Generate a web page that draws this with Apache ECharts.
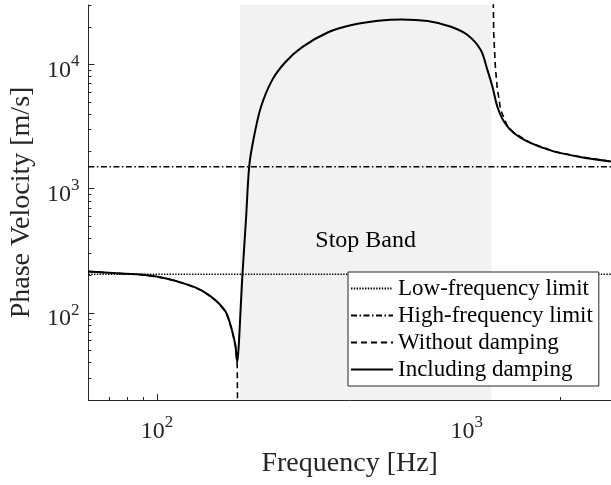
<!DOCTYPE html>
<html><head><meta charset="utf-8">
<script src="https://cdn.jsdelivr.net/npm/echarts@6/dist/echarts.min.js"></script>
<style>html,body{margin:0;padding:0;background:#fff}#c{width:611px;height:485px}</style>
</head><body><div id="c"></div>
<script>
const FONT = '"Liberation Serif","Times New Roman",serif';
const TXT = '#262626';

// axis ranges and ticks
const xRange = [60, 2920];
const yRange = [20, 30000];
const xMajorTicks = [100, 1000];
const xMinorTicks = [60, 70, 80, 90, 200, 300, 400, 500, 600, 700, 800, 900, 2000];
const yMajorTicks = [100, 1000, 10000];
const yMinorTicks = [20, 30, 40, 50, 60, 70, 80, 90, 200, 300, 400, 500, 600, 700, 800, 900,
                     2000, 3000, 4000, 5000, 6000, 7000, 8000, 9000, 20000, 30000];

// limits
const lowFreqLimit = 205;
const highFreqLimit = 1500;

// stop band
const stopBand = [185, 1200];

// Including damping
const freqDamped = [60, 74.1, 90.2, 107, 124, 140, 155, 167, 174, 179, 181.4, 183.2, 186.3, 188.6, 193.6, 198.3, 204.6, 216, 235.4, 259.7, 294, 358, 425, 517, 615, 748, 889, 1005, 1109, 1165, 1209, 1254, 1317, 1418, 1604, 1905, 2320, 2920];
const velDamped  = [216, 209, 203, 190, 171, 151, 125.5, 101, 74.5, 54.7, 40.3, 51.5, 115, 205, 566, 1514, 2478, 4480, 7500, 10450, 13770, 18200, 20700, 22390, 22970, 22270, 20050, 17200, 13040, 9020, 6624, 4585, 3474, 2805, 2333, 1997, 1802, 1658];

// Without damping (two branches)
const freqUndampedLow = [60, 74.1, 90.2, 107, 124, 140, 155, 167, 174, 179, 181.4, 182.3];
const velUndampedLow  = [216, 209, 203, 190, 171, 151, 125.5, 101, 74.5, 54.7, 38, 8];
const freqUndampedHigh = [1213, 1218, 1221, 1236, 1252, 1285, 1352, 1418, 1604, 1905, 2320, 2920];
const velUndampedHigh  = [80000, 28000, 17700, 9550, 6610, 4315, 3170, 2820, 2340, 2000, 1805, 1658];

const zip = (a, b) => a.map((v, i) => [v, b[i]]);
const undamped = zip(freqUndampedLow, velUndampedLow).concat([[null, null]], zip(freqUndampedHigh, velUndampedHigh));

const richLbl = {
  b: { fontFamily: FONT, fontSize: 24, color: TXT, padding: [12, 0, 0, 0] },
  s: { fontFamily: FONT, fontSize: 17, color: TXT, padding: [0, 0, 6, 0] }
};
const powFmt = v => {
  const e = Math.round(Math.log10(v));
  if (Math.abs(v - Math.pow(10, e)) > 1e-6 * v) return '';
  return '{b|10}{s|' + e + '}';
};

const axisLineStyle = { color: TXT, width: 1 };

const option = {
  backgroundColor: '#fff',
  animation: false,
  grid: { left: 85, top: 5, right: 0, bottom: 85, containLabel: false },
  xAxis: [
    { type: 'log', logBase: 10, min: xRange[0], max: xRange[1],
      name: 'Frequency [Hz]', nameLocation: 'middle', nameGap: 50,
      nameTextStyle: { fontFamily: FONT, fontSize: 28, color: TXT },
      axisLine: { show: true, lineStyle: axisLineStyle },
      axisTick: { show: true, inside: true, length: 6, lineStyle: axisLineStyle, customValues: xMajorTicks },
      axisLabel: { show: true, margin: 8, formatter: powFmt, rich: richLbl, customValues: xMajorTicks },
      splitLine: { show: false }, minorTick: { show: false } },
    { type: 'log', logBase: 10, min: xRange[0], max: xRange[1], position: 'bottom',
      axisLine: { show: false },
      axisTick: { show: true, inside: true, length: 3, lineStyle: axisLineStyle, customValues: xMinorTicks },
      axisLabel: { show: false }, splitLine: { show: false } }
  ],
  yAxis: [
    { type: 'log', logBase: 10, min: yRange[0], max: yRange[1],
      name: 'Phase Velocity [m/s]', nameLocation: 'middle', nameGap: 48, nameRotate: 90,
      nameTextStyle: { fontFamily: FONT, fontSize: 28, color: TXT },
      axisLine: { show: true, lineStyle: axisLineStyle },
      axisTick: { show: true, inside: true, length: 6, lineStyle: axisLineStyle, customValues: yMajorTicks },
      axisLabel: { show: true, margin: 9, formatter: powFmt, rich: richLbl, customValues: yMajorTicks },
      splitLine: { show: false } },
    { type: 'log', logBase: 10, min: yRange[0], max: yRange[1], position: 'left',
      axisLine: { show: false },
      axisTick: { show: true, inside: true, length: 3, lineStyle: axisLineStyle, customValues: yMinorTicks },
      axisLabel: { show: false }, splitLine: { show: false } }
  ],
  legend: {
    data: ['Low-frequency limit', 'High-frequency limit', 'Without damping', 'Including damping'],
    orient: 'vertical', left: 348, top: 272,
    itemWidth: 42, itemHeight: 12, itemGap: 0,
    padding: [3, 6, 3, 2],
    backgroundColor: '#fff', borderColor: TXT, borderWidth: 1, borderRadius: 0,
    itemStyle: { opacity: 0 },
    textStyle: { fontFamily: FONT, fontSize: 23, color: '#000', lineHeight: 27 },
    selectedMode: false
  },
  series: [
    { name: 'band', type: 'line', data: [], silent: true,
      markArea: { silent: true, itemStyle: { color: '#f2f2f2' },
        label: { show: true, position: 'inside', offset: [0, 38], formatter: 'Stop Band',
                 fontFamily: FONT, fontSize: 24, color: '#000' },
        data: [[{ xAxis: stopBand[0], yAxis: yRange[0] }, { xAxis: stopBand[1], yAxis: yRange[1] }]] } },
    { name: 'Low-frequency limit', type: 'line', symbol: 'none', clip: true,
      data: [[xRange[0], lowFreqLimit], [xRange[1], lowFreqLimit]],
      lineStyle: { color: '#000', width: 1.6, type: [1.4, 1.4] }, itemStyle: { color: '#000', opacity: 0 } },
    { name: 'High-frequency limit', type: 'line', symbol: 'none', clip: true,
      data: [[xRange[0], highFreqLimit], [xRange[1], highFreqLimit]],
      lineStyle: { color: '#000', width: 1.5, type: [6, 2.5, 1.5, 2.5] }, itemStyle: { color: '#000', opacity: 0 } },
    { name: 'Without damping', type: 'line', symbol: 'none', clip: true, connectNulls: false,
      data: undamped,
      lineStyle: { color: '#000', width: 1.6, type: [6, 4] }, itemStyle: { color: '#000', opacity: 0 } },
    { name: 'Including damping', type: 'line', symbol: 'none', clip: true, smooth: 0.3,
      data: zip(freqDamped, velDamped),
      lineStyle: { color: '#000', width: 2 }, itemStyle: { color: '#000', opacity: 0 } }
  ]
};
echarts.init(document.getElementById('c'), null, { renderer: 'canvas' }).setOption(option);
</script></body></html>
